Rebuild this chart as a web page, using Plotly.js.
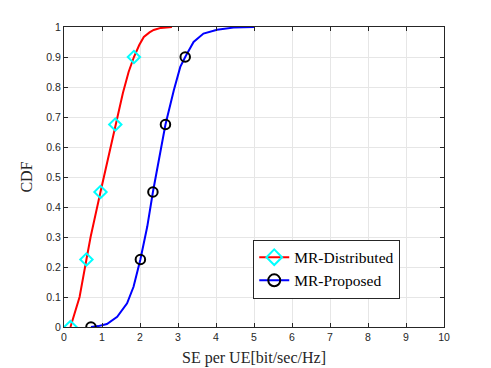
<!DOCTYPE html>
<html>
<head>
<meta charset="utf-8">
<script src="https://cdn.plot.ly/plotly-3.0.1.min.js"></script>
<style>
  body { margin: 0; background: #fff; }
  #chart { width: 491px; height: 368px; }
</style>
</head>
<body>
<div id="chart"></div>
<script>
// CDF curves
const distX = [0.17, 0.27, 0.41, 0.59, 0.70, 0.96, 1.15, 1.35, 1.55, 1.70, 1.84, 1.98, 2.10, 2.25, 2.36, 2.55, 2.84];
const distY = [0, 0.04, 0.10, 0.225, 0.30, 0.45, 0.56, 0.675, 0.78, 0.85, 0.90, 0.94, 0.967, 0.982, 0.99, 0.997, 1];
const propX = [0.71, 0.90, 1.13, 1.40, 1.66, 1.83, 2.01, 2.19, 2.34, 2.50, 2.67, 2.89, 3.06, 3.19, 3.41, 3.67, 4.03, 4.46, 5.0];
const propY = [0, 0.003, 0.01, 0.034, 0.079, 0.134, 0.225, 0.334, 0.45, 0.56, 0.675, 0.789, 0.867, 0.90, 0.95, 0.978, 0.991, 0.998, 1];

// which points carry a marker
const distMarks = [0, 3, 5, 7, 10];
const propMarks = [0, 6, 8, 10, 13];

const markSizes = (xs, idx, s) => xs.map((_, i) => idx.includes(i) ? s : 0);

const traces = [
  {
    x: distX, y: distY, mode: 'lines+markers', name: 'MR-Distributed',
    line: {color: '#ff0000', width: 2},
    marker: {symbol: 'diamond-open', size: markSizes(distX, distMarks, 9.5), color: '#00ffff',
      opacity: 1, line: {width: 2, color: '#00ffff'}}
  },
  {
    x: propX, y: propY, mode: 'lines+markers', name: 'MR-Proposed',
    line: {color: '#0000ff', width: 2},
    marker: {symbol: 'circle-open', size: markSizes(propX, propMarks, 9.5), color: '#000000',
      opacity: 1, line: {width: 2, color: '#000000'}}
  }
];

const axisBase = {
  showline: true, mirror: 'ticks', linecolor: '#262626', linewidth: 1,
  ticks: 'inside', ticklen: 4, tickcolor: '#262626',
  showgrid: true, gridcolor: '#e6e6e6', gridwidth: 1,
  zeroline: false,
  tickfont: {family: 'Liberation Sans, Arial, sans-serif', size: 10.5, color: '#262626'}
};

const serif = 'Liberation Serif, Times New Roman, serif';

const layout = {
  width: 491, height: 368,
  margin: {l: 63.5, r: 47, t: 26.7, b: 41},
  paper_bgcolor: '#fff', plot_bgcolor: '#fff',
  xaxis: Object.assign({}, axisBase, {
    range: [0, 10], dtick: 1,
    title: {text: 'SE per UE[bit/sec/Hz]', standoff: 10,
      font: {family: serif, size: 16, color: '#262626'}}
  }),
  yaxis: Object.assign({}, axisBase, {
    range: [0, 1], dtick: 0.1,
    title: {text: 'CDF', standoff: 9,
      font: {family: serif, size: 16, color: '#262626'}}
  }),
  legend: {
    x: 0.498, y: 0.193, xanchor: 'left', yanchor: 'middle',
    bgcolor: '#fff', bordercolor: '#262626', borderwidth: 1,
    font: {family: serif, size: 15.5, color: '#000'},
    itemsizing: 'constant', tracegroupgap: 0
  },
  showlegend: true
};

Plotly.newPlot('chart', traces, layout, {displayModeBar: false, staticPlot: true}).then(() => {
  // constant item sizing fattens the legend lines; put them back to 2px
  document.querySelectorAll('.legend .js-line').forEach(p => { p.style.strokeWidth = '2px'; });
});
</script>
</body>
</html>
